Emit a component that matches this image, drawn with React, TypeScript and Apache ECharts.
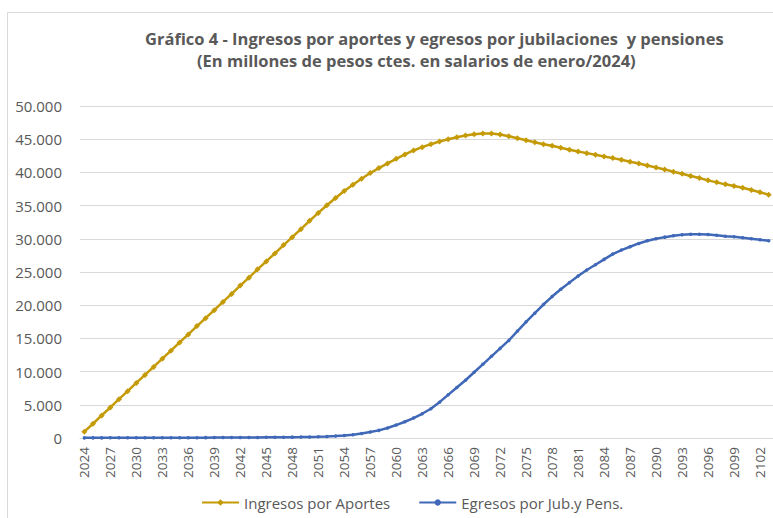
import React, { useEffect, useRef } from "react";
import * as echarts from "echarts";

const years: string[] = [];
for (let y = 2024; y <= 2103; y++) years.push(String(y));

const ingresos: number[] = [
  950, 2150, 3400, 4600, 5850, 7050, 8300, 9500, 10700, 11950,
  13150, 14400, 15600, 16850, 18050, 19250, 20500, 21700, 22950, 24150,
  25400, 26600, 27800, 29050, 30250, 31450, 32700, 33900, 35050, 36150,
  37200, 38150, 39050, 39900, 40650, 41350, 42050, 42700, 43300, 43800,
  44250, 44650, 45000, 45300, 45550, 45750, 45850, 45850, 45700, 45450,
  45150, 44850, 44550, 44250, 44000, 43700, 43400, 43150, 42900, 42650,
  42400, 42150, 41900, 41600, 41350, 41050, 40750, 40450, 40100, 39800,
  39450, 39150, 38800, 38500, 38200, 37950, 37700, 37350, 37000, 36650,
];

const egresos: number[] = [
  20, 20, 20, 25, 25, 30, 30, 35, 35, 40,
  40, 45, 50, 50, 55, 60, 65, 70, 75, 80,
  90, 100, 110, 120, 130, 140, 160, 190, 230, 290,
  380, 500, 680, 900, 1150, 1500, 1950, 2450, 3000, 3650,
  4400, 5400, 6500, 7600, 8700, 9900, 11100, 12300, 13500, 14700,
  16100, 17500, 18800, 20100, 21300, 22400, 23400, 24400, 25300, 26100,
  26900, 27700, 28300, 28800, 29300, 29700, 30000, 30250, 30450, 30600,
  30700, 30700, 30650, 30550, 30400, 30300, 30150, 30000, 29850, 29700,
];

const titleText = "Gráfico 4 - Ingresos por aportes y egresos por jubilaciones  y pensiones";
const subtitleText = "(En millones de pesos ctes. en salarios de enero/2024)";
const seriesNames = ["Ingresos por Aportes", "Egresos por Jub.y Pens."];

const GOLD = "#C49A06";
const BLUE = "#4068B8";
const TXT = "#595959";
const FONT = "'Open Sans', 'Noto Sans', sans-serif";

export default function App() {
  const ref = useRef<HTMLDivElement>(null);
  useEffect(() => {
    if (!ref.current) return;
    const chart = echarts.init(ref.current, null, { renderer: "svg" });
    chart.setOption({
      animation: false,
      backgroundColor: "#fff",
      textStyle: { fontFamily: FONT },
      graphic: [
        {
          type: "rect",
          shape: { x: 7.5, y: 12.5, width: 900, height: 700 },
          style: { fill: "none", stroke: "#d9d9d9", lineWidth: 1 },
          silent: true,
        },
        {
          type: "text",
          x: 145,
          y: 38,
          style: {
            text: titleText,
            font: `bold 16.5px ${FONT}`,
            fill: TXT,
            verticalAlign: "middle",
          },
        },
        {
          type: "text",
          x: 197,
          y: 60,
          style: {
            text: subtitleText,
            font: `bold 16.5px ${FONT}`,
            fill: TXT,
            verticalAlign: "middle",
          },
        },
      ],
      legend: {
        bottom: 3,
        left: 196,
        itemGap: 28,
        itemWidth: 37,
        itemHeight: 8,
        textStyle: { color: TXT, fontSize: 15, fontFamily: FONT },
        data: seriesNames,
      },
      grid: { left: 80, right: 0, top: 106, bottom: 80, containLabel: false },
      xAxis: {
        type: "category",
        data: years,
        boundaryGap: true,
        axisLine: { lineStyle: { color: "#d9d9d9" } },
        axisTick: { show: false },
        axisLabel: {
          interval: 2,
          rotate: 90,
          color: TXT,
          fontSize: 13.5,
          fontFamily: FONT,
          margin: 9,
        },
      },
      yAxis: {
        type: "value",
        min: 0,
        max: 50000,
        interval: 5000,
        axisLine: { show: false },
        axisTick: { show: false },
        splitLine: { lineStyle: { color: "#d9d9d9", width: 1 } },
        axisLabel: {
          color: TXT,
          fontSize: 15,
          fontFamily: FONT,
          margin: 18,
          formatter: (v: number) =>
            v === 0 ? "0" : v.toLocaleString("de-DE"),
        },
      },
      series: [
        {
          name: seriesNames[0],
          type: "line",
          data: ingresos,
          color: GOLD,
          lineStyle: { width: 2.5, color: GOLD },
          symbol: "diamond",
          symbolSize: 6,
          showSymbol: true,
          showAllSymbol: true,
          itemStyle: { color: GOLD },
        },
        {
          name: seriesNames[1],
          type: "line",
          data: egresos,
          color: BLUE,
          lineStyle: { width: 2.5, color: BLUE },
          symbol: "circle",
          symbolSize: 3.5,
          showSymbol: true,
          showAllSymbol: true,
          itemStyle: { color: BLUE },
        },
      ],
    });
    return () => chart.dispose();
  }, []);
  return (
    <div
      ref={ref}
      style={{ position: "absolute", left: 0, top: 0, width: 773, height: 518 }}
    />
  );
}
